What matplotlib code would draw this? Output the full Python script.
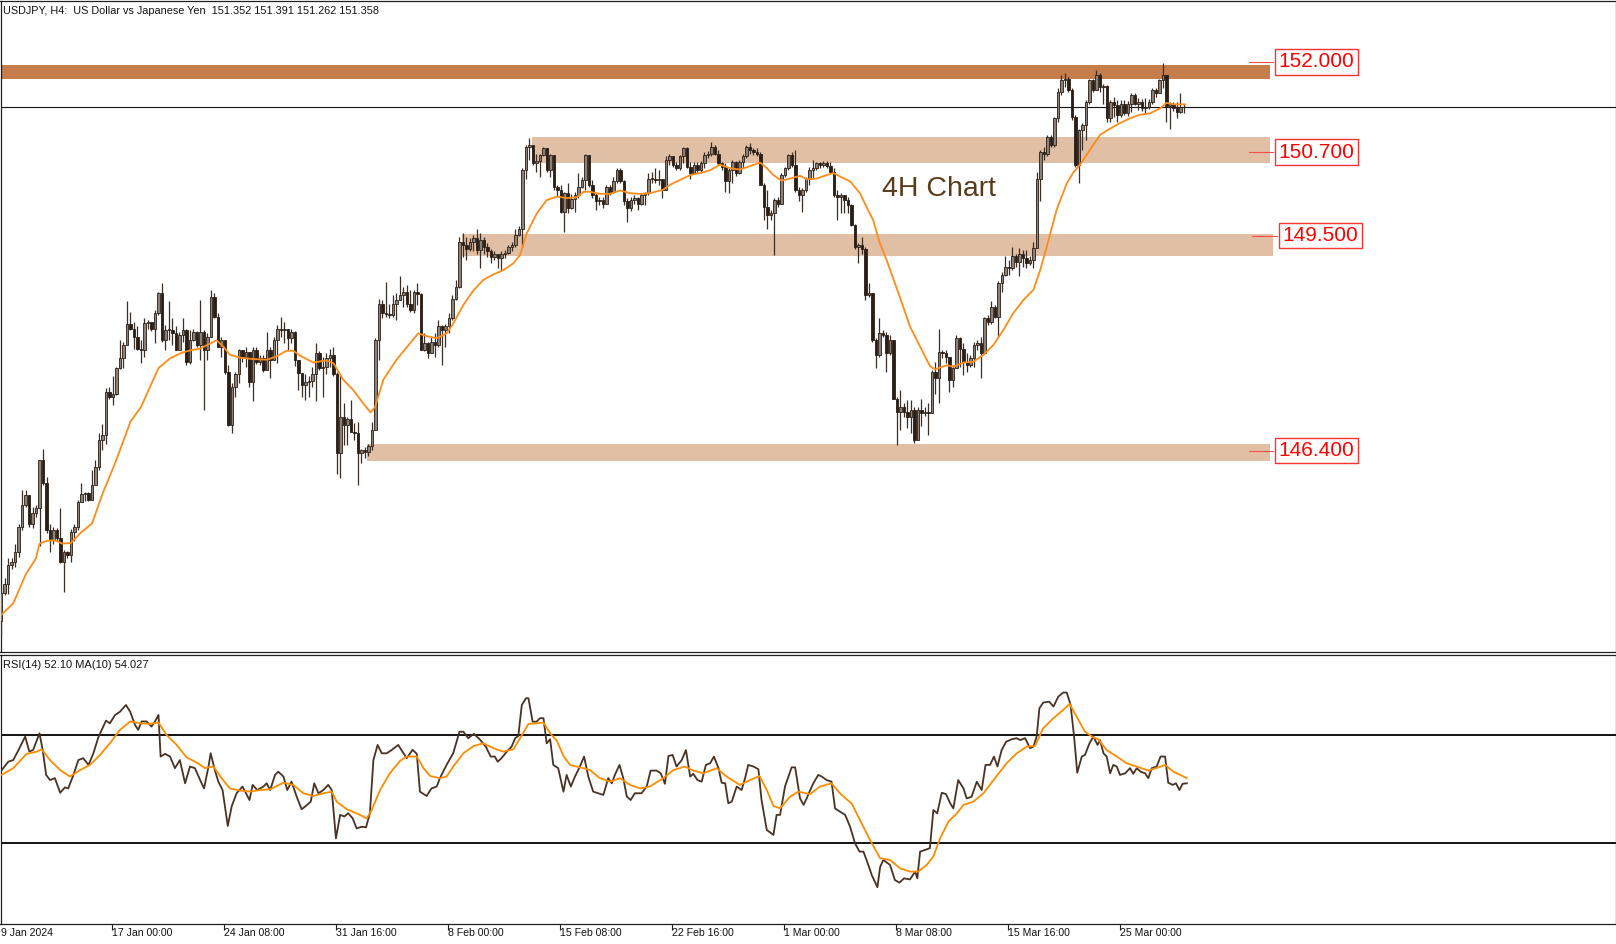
"""
USDJPY H4 chart with support/resistance zones and RSI(14) panel (MT5 style).
"""
import numpy as np
import matplotlib.pyplot as plt
from matplotlib.patches import Rectangle

plt.rcParams['font.family'] = ['Liberation Sans', 'DejaVu Sans']

# ============================================================================
# DATA (H4 bars from 9 Jan 2024 16:00)
# ============================================================================
first_open = 143.95
closes = [
    144.35, 144.48, 144.75, 144.79, 144.94, 145.30, 145.62, 145.76, 145.35, 145.50,
    145.57, 146.26, 145.93, 145.26, 145.11, 145.26, 145.14, 144.80, 144.94, 144.90,
    145.23, 145.30, 145.66, 145.78, 145.79, 145.69, 145.90, 146.17, 146.55, 146.62,
    147.25, 147.18, 147.22, 147.59, 147.73, 147.92, 148.23, 148.16, 148.04, 147.87,
    147.85, 148.24, 148.25, 148.16, 148.38, 148.67, 147.99, 148.14, 148.14, 148.09,
    147.85, 148.07, 148.14, 147.68, 147.99, 148.11, 147.92, 148.11, 147.85, 148.04,
    148.62, 148.33, 147.90, 147.99, 147.54, 146.77, 147.32, 147.51, 147.85, 147.75,
    147.82, 147.39, 147.85, 147.68, 147.73, 147.56, 147.85, 147.71, 147.99, 148.16,
    148.14, 148.15, 148.02, 148.11, 147.70, 147.52, 147.34, 147.39, 147.41, 147.51,
    147.80, 147.59, 147.61, 147.73, 147.78, 147.51, 146.36, 146.89, 146.77, 146.86,
    146.67, 146.65, 146.36, 146.41, 146.38, 146.46, 146.70, 147.99, 148.52, 148.38,
    148.37, 148.35, 148.52, 148.57, 148.64, 148.69, 148.52, 148.43, 148.69, 148.66,
    147.85, 147.95, 147.80, 147.97, 147.92, 148.19, 148.14, 148.19, 148.31, 148.59,
    148.76, 149.41, 149.36, 149.31, 149.41, 149.46, 149.29, 149.43, 149.34, 149.27,
    149.19, 149.24, 149.17, 149.24, 149.25, 149.34, 149.37, 149.51, 149.59, 150.44,
    150.78, 150.80, 150.54, 150.58, 150.66, 150.76, 150.44, 150.66, 150.20, 150.16,
    149.84, 150.11, 149.89, 150.02, 150.08, 150.20, 150.30, 150.66, 150.23, 150.08,
    149.99, 150.01, 149.96, 150.20, 150.13, 150.28, 150.44, 150.28, 149.99, 149.89,
    150.01, 150.04, 149.96, 150.08, 150.11, 150.32, 150.32, 150.30, 150.31, 150.16,
    150.59, 150.64, 150.52, 150.47, 150.64, 150.76, 150.49, 150.40, 150.52, 150.44,
    150.54, 150.66, 150.68, 150.78, 150.68, 150.54, 150.49, 150.28, 150.44, 150.56,
    150.40, 150.56, 150.64, 150.78, 150.73, 150.71, 150.68, 150.23, 149.91, 149.79,
    149.82, 150.01, 149.96, 150.37, 150.47, 150.66, 150.52, 150.16, 150.08, 150.16,
    150.32, 150.44, 150.47, 150.54, 150.52, 150.54, 150.50, 150.42, 150.08, 150.06,
    150.08, 150.01, 149.94, 149.65, 149.34, 149.36, 149.31, 148.64, 148.67, 147.99,
    147.78, 148.09, 148.07, 147.80, 147.99, 147.15, 146.96, 147.03, 146.96, 146.89,
    146.99, 146.55, 146.99, 146.94, 146.96, 146.94, 147.54, 147.44, 147.82, 147.80,
    147.75, 147.42, 147.59, 148.02, 147.87, 147.68, 147.63, 147.73, 147.92, 147.95,
    147.80, 148.31, 148.26, 148.47, 148.33, 148.81, 148.93, 149.05, 149.03, 149.20,
    149.12, 149.24, 149.17, 149.10, 149.15, 149.32, 150.32, 150.71, 150.68, 150.92,
    150.80, 151.19, 151.57, 151.74, 151.76, 151.60, 151.21, 150.52, 151.02, 151.09,
    151.43, 151.74, 151.60, 151.81, 151.64, 151.66, 151.19, 151.43, 151.38, 151.24,
    151.40, 151.26, 151.40, 151.52, 151.40, 151.43, 151.33, 151.35, 151.43, 151.60,
    151.55, 151.74, 151.81, 151.36, 151.40, 151.33, 151.28, 151.352, 151.358,
]
highs = [
    144.45, 144.56, 144.85, 144.85, 145.06, 145.35, 145.83, 145.84, 145.74, 145.59,
    145.61, 146.27, 146.42, 146.02, 145.35, 145.30, 145.28, 145.57, 144.97, 144.96,
    145.27, 145.35, 145.69, 145.93, 145.80, 145.80, 146.12, 146.27, 146.65, 146.79,
    147.30, 147.32, 147.47, 147.61, 147.99, 147.97, 148.55, 148.40, 148.26, 148.19,
    147.99, 148.31, 148.28, 148.25, 148.43, 148.68, 148.82, 148.21, 148.55, 148.31,
    148.19, 148.11, 148.31, 148.15, 148.14, 148.15, 148.13, 148.57, 148.14, 148.09,
    148.71, 148.67, 148.38, 148.04, 147.92, 147.63, 147.37, 147.54, 147.87, 147.85,
    147.90, 147.71, 147.90, 147.90, 147.78, 147.78, 148.11, 147.90, 148.04, 148.21,
    148.33, 148.26, 148.11, 148.15, 148.12, 147.66, 147.51, 147.51, 147.47, 147.61,
    147.95, 147.83, 147.75, 147.80, 147.87, 147.90, 147.54, 147.51, 147.08, 146.89,
    147.13, 146.80, 146.82, 146.43, 146.45, 146.50, 146.82, 148.02, 148.59, 148.57,
    148.83, 148.52, 148.64, 148.67, 148.91, 148.76, 148.79, 148.71, 148.71, 148.81,
    148.67, 148.09, 147.97, 148.04, 148.09, 148.28, 148.21, 148.23, 148.38, 148.64,
    148.86, 149.48, 149.53, 149.48, 149.46, 149.51, 149.60, 149.53, 149.48, 149.39,
    149.31, 149.27, 149.24, 149.27, 149.29, 149.36, 149.40, 149.60, 149.63, 150.47,
    150.80, 150.90, 150.80, 150.68, 150.68, 150.78, 150.76, 150.68, 150.56, 150.23,
    150.23, 150.13, 150.25, 150.10, 150.13, 150.40, 150.35, 150.68, 150.66, 150.30,
    150.11, 150.06, 150.05, 150.23, 150.23, 150.35, 150.47, 150.47, 150.30, 150.04,
    150.06, 150.08, 150.06, 150.11, 150.13, 150.40, 150.42, 150.47, 150.44, 150.32,
    150.64, 150.68, 150.64, 150.56, 150.66, 150.78, 150.78, 150.56, 150.56, 150.56,
    150.58, 150.71, 150.72, 150.85, 150.80, 150.73, 150.56, 150.54, 150.47, 150.59,
    150.58, 150.59, 150.68, 150.80, 150.83, 150.76, 150.76, 150.71, 150.25, 150.16,
    149.87, 150.04, 150.06, 150.40, 150.49, 150.68, 150.71, 150.73, 150.20, 150.18,
    150.35, 150.49, 150.59, 150.56, 150.56, 150.57, 150.57, 150.56, 150.47, 150.16,
    150.11, 150.08, 150.06, 149.96, 149.67, 149.39, 149.48, 149.34, 148.81, 148.67,
    148.02, 148.31, 148.14, 148.11, 148.07, 147.87, 147.18, 147.27, 147.08, 147.13,
    147.13, 147.03, 147.03, 147.15, 147.03, 147.08, 147.56, 147.68, 148.16, 147.85,
    147.85, 147.75, 147.63, 148.07, 148.04, 147.95, 147.80, 147.78, 147.97, 147.99,
    148.04, 148.33, 148.36, 148.55, 148.50, 148.84, 148.98, 149.20, 149.15, 149.34,
    149.24, 149.32, 149.29, 149.29, 149.20, 149.41, 150.42, 150.73, 150.78, 150.95,
    150.95, 151.21, 151.62, 151.81, 151.84, 151.79, 151.62, 151.24, 151.04, 151.12,
    151.45, 151.76, 151.76, 151.88, 151.84, 151.69, 151.67, 151.45, 151.50, 151.45,
    151.45, 151.45, 151.44, 151.55, 151.55, 151.48, 151.46, 151.48, 151.46, 151.62,
    151.62, 151.76, 151.98, 151.79, 151.43, 151.43, 151.43, 151.55, 151.391,
]
lows = [
    143.76, 144.32, 144.34, 144.70, 144.73, 144.87, 145.26, 145.59, 145.30, 145.28,
    145.45, 145.02, 145.91, 145.21, 144.94, 145.05, 145.10, 144.78, 144.37, 144.85,
    144.80, 145.10, 145.26, 145.66, 145.67, 145.67, 145.69, 145.90, 146.12, 146.41,
    146.50, 147.15, 147.06, 147.20, 147.58, 147.59, 147.92, 148.14, 147.87, 147.85,
    147.66, 147.75, 148.16, 148.12, 147.95, 148.36, 147.97, 147.85, 147.99, 147.92,
    147.85, 147.85, 147.97, 147.63, 147.65, 147.98, 147.90, 147.71, 146.99, 147.71,
    148.04, 148.31, 147.90, 147.75, 147.51, 146.75, 146.65, 147.18, 147.37, 147.68,
    147.61, 147.32, 147.11, 147.65, 147.63, 147.54, 147.70, 147.44, 147.70, 147.66,
    148.04, 147.95, 147.85, 147.95, 147.62, 147.27, 147.18, 147.13, 147.18, 147.32,
    147.11, 147.56, 147.18, 147.51, 147.61, 147.47, 146.07, 146.00, 146.48, 146.48,
    146.67, 146.55, 145.90, 146.22, 146.30, 146.33, 146.41, 146.70, 147.71, 148.31,
    148.33, 148.31, 148.33, 148.28, 148.57, 148.47, 148.47, 148.40, 148.38, 148.50,
    147.85, 147.83, 147.73, 147.80, 147.75, 147.90, 147.63, 147.90, 148.09, 148.28,
    148.57, 148.74, 149.19, 149.15, 149.27, 149.27, 149.24, 149.03, 149.24, 149.19,
    149.10, 149.15, 149.03, 149.00, 149.17, 149.24, 149.28, 149.34, 149.50, 149.34,
    150.32, 150.59, 150.52, 150.42, 150.35, 150.64, 150.42, 150.35, 150.16, 150.06,
    149.82, 149.55, 149.82, 149.88, 149.84, 150.04, 150.18, 150.16, 150.20, 150.04,
    149.87, 149.94, 149.90, 149.96, 150.08, 150.11, 150.25, 150.25, 149.94, 149.70,
    149.86, 149.96, 149.87, 149.94, 149.94, 150.08, 150.25, 150.25, 150.23, 150.04,
    150.16, 150.52, 150.49, 150.44, 150.45, 150.54, 150.47, 150.32, 150.38, 150.40,
    150.40, 150.47, 150.62, 150.64, 150.66, 150.52, 150.45, 150.13, 150.11, 150.25,
    150.36, 150.38, 150.47, 150.61, 150.68, 150.66, 150.64, 150.23, 149.72, 149.60,
    149.72, 149.22, 149.91, 150.00, 150.35, 150.44, 150.49, 150.13, 149.99, 149.84,
    150.13, 150.23, 150.32, 150.44, 150.47, 150.48, 150.47, 150.40, 150.06, 149.72,
    149.82, 149.82, 149.82, 149.63, 149.31, 149.10, 149.24, 148.57, 148.62, 147.97,
    147.59, 147.75, 148.04, 147.54, 147.78, 147.15, 146.48, 146.70, 146.88, 146.72,
    146.65, 146.51, 146.55, 146.75, 146.90, 146.62, 146.94, 147.22, 147.08, 147.74,
    147.66, 147.25, 147.32, 147.59, 147.61, 147.49, 147.54, 147.60, 147.61, 147.85,
    147.44, 147.95, 148.21, 148.23, 148.31, 148.04, 148.69, 148.91, 148.93, 149.00,
    149.05, 148.91, 149.05, 149.03, 149.08, 149.03, 149.32, 149.99, 150.59, 150.64,
    150.78, 150.78, 151.14, 151.52, 151.64, 151.57, 151.16, 150.49, 150.25, 150.73,
    150.88, 151.40, 151.57, 151.64, 151.57, 151.40, 151.14, 151.14, 151.21, 151.14,
    151.21, 151.24, 151.22, 151.28, 151.38, 151.31, 151.30, 151.26, 151.32, 151.40,
    151.50, 151.55, 151.62, 151.14, 151.04, 151.30, 151.19, 151.26, 151.262,
]

# orange moving average on price (bar index, value)
price_ma = [
    (0, 144.03), (3.5, 144.20), (7, 144.61), (10, 144.85), (11, 145.06), (13, 145.10),
    (15.4, 145.11), (17.5, 145.06), (20, 145.07), (22.6, 145.21), (26, 145.35), (29, 145.78),
    (32.6, 146.22), (35.4, 146.60), (37, 146.82), (40, 147.03), (42.6, 147.32), (45, 147.59),
    (48.3, 147.73), (51.6, 147.81), (54.5, 147.85), (56.9, 147.87), (58.8, 147.92), (61.6, 147.99),
    (63.5, 147.90), (65.4, 147.78), (68.3, 147.74), (72, 147.72), (76, 147.71), (78.8, 147.76),
    (81.6, 147.84), (83.5, 147.84), (85.4, 147.77), (89.2, 147.67), (93, 147.70), (95, 147.66),
    (97.8, 147.42), (100.7, 147.27), (103.5, 147.08), (105.6, 146.95), (106.9, 147.03), (109.2, 147.42),
    (113, 147.71), (116.9, 147.95), (119.2, 148.09), (121.6, 148.05), (124.5, 148.02), (127.3, 148.09),
    (129.2, 148.23), (132.1, 148.50), (135, 148.71), (137.8, 148.86), (140.7, 148.94), (143.5, 149.00),
    (146.4, 149.10), (148.3, 149.22), (150.2, 149.53), (153.1, 149.82), (155.9, 150.01), (158.8, 150.06),
    (161.6, 150.04), (164.5, 150.05), (166.4, 150.13), (168.3, 150.13), (171.1, 150.10), (174, 150.10),
    (176.9, 150.15), (179.7, 150.11), (182.6, 150.10), (185.4, 150.11), (189.2, 150.16), (191.1, 150.23),
    (194, 150.30), (196.9, 150.37), (199.7, 150.40), (202.6, 150.44), (205.4, 150.52), (208.3, 150.47),
    (211.1, 150.45), (214, 150.50), (216.9, 150.55), (218.8, 150.47), (220.7, 150.37), (223, 150.29),
    (225.4, 150.32), (228.3, 150.36), (230.2, 150.31), (233, 150.32), (235.9, 150.37), (237.8, 150.40),
    (239.7, 150.35), (242.6, 150.28), (245.4, 150.11), (247.3, 149.91), (249.2, 149.72), (251.1, 149.39),
    (253, 149.15), (254.9, 148.88), (256.9, 148.60), (259.7, 148.19), (262.6, 147.90), (265.4, 147.62),
    (266.9, 147.57), (268.3, 147.60), (270.2, 147.63), (272.1, 147.61), (275, 147.67), (277.8, 147.68),
    (280.7, 147.78), (283.5, 147.92), (286.4, 148.14), (289.2, 148.38), (292.1, 148.57), (295, 148.72),
    (296.9, 149.00), (298.8, 149.34), (301.6, 149.87), (304.5, 150.25), (306.4, 150.41), (308.3, 150.52),
    (311.1, 150.73), (314, 150.95), (316.9, 151.04), (319.7, 151.12), (322.6, 151.19), (325.4, 151.24),
    (328.3, 151.26), (331.1, 151.33), (333, 151.41), (335, 151.39), (336.9, 151.39), (338.3, 151.39),
]

# RSI(14) and its MA(10) (bar index, value)
rsi_line = [
    (0.2, 57.0), (2.1, 60.1), (3.5, 60.7), (5.0, 64.4), (6.9, 69.4), (8.1, 63.8), (9.2, 64.5), (11.0, 70.6),
    (11.9, 64.5), (12.9, 55.2), (14.0, 53.3), (15.4, 54.0), (16.9, 48.6), (18.3, 50.6), (19.2, 50.2),
    (20.7, 55.2), (22.1, 60.7), (23.5, 61.4), (25.0, 58.9), (26.4, 63.2), (27.8, 69.1), (30.0, 75.3),
    (31.1, 74.3), (32.6, 77.4), (34.0, 78.6), (35.7, 81.1), (36.9, 78.6), (38.3, 73.7), (39.2, 71.9),
    (40.2, 75.0), (41.6, 75.0), (43.0, 73.1), (44.0, 75.0), (45.0, 77.4), (45.6, 62.0), (46.9, 63.0),
    (48.3, 62.0), (49.7, 57.7), (51.1, 60.7), (52.6, 52.1), (54.0, 58.3), (55.4, 57.7), (56.9, 53.3),
    (58.0, 50.2), (59.2, 57.7), (59.9, 63.2), (61.1, 57.0), (62.1, 52.7), (63.3, 49.6), (64.8, 36.3),
    (65.9, 43.5), (67.3, 48.4), (69.0, 50.9), (71.0, 45.9), (71.9, 51.5), (73.2, 49.6), (75.0, 50.9),
    (75.9, 52.1), (76.9, 49.6), (78.3, 55.2), (79.2, 56.4), (80.7, 54.6), (81.8, 49.6), (83.0, 52.7),
    (84.5, 47.1), (85.9, 42.5), (87.1, 43.7), (88.5, 45.3), (89.5, 52.1), (90.7, 48.4), (92.1, 49.6),
    (93.5, 51.5), (94.5, 49.6), (95.7, 31.7), (96.9, 40.4), (98.1, 39.8), (99.2, 41.0), (100.5, 39.1),
    (101.6, 35.4), (103.0, 36.0), (104.3, 35.8), (105.4, 41.0), (106.4, 60.7), (107.6, 66.3), (108.8, 63.2),
    (110.2, 63.2), (111.6, 64.4), (113.5, 66.3), (115.9, 61.4), (117.6, 64.5), (118.8, 63.0), (119.7, 49.0),
    (121.6, 47.4), (123.0, 50.2), (124.5, 50.9), (125.4, 54.0), (127.3, 58.9), (129.2, 63.2), (131.0, 71.2),
    (132.1, 71.2), (133.5, 68.8), (135.1, 70.4), (136.9, 68.2), (138.6, 65.5), (139.9, 62.0), (141.1, 62.0),
    (141.9, 60.1), (143.0, 61.4), (144.5, 63.8), (145.9, 65.7), (146.9, 68.8), (147.8, 69.6), (148.8, 81.1),
    (150.0, 83.6), (150.7, 83.6), (151.9, 74.9), (153.0, 74.9), (154.0, 76.2), (155.0, 76.2), (155.9, 66.9),
    (156.9, 68.4), (157.8, 58.9), (159.2, 57.7), (160.7, 49.0), (161.6, 55.2), (162.8, 50.9), (164.0, 54.6),
    (165.4, 58.3), (166.6, 62.0), (167.8, 54.6), (169.2, 49.0), (170.7, 48.4), (172.1, 47.8), (173.5, 54.0),
    (174.5, 52.1), (175.4, 55.2), (176.7, 58.9), (177.8, 54.0), (178.8, 47.2), (179.9, 45.9), (181.1, 48.4),
    (183.0, 48.4), (184.5, 50.9), (185.6, 56.8), (187.3, 56.8), (188.5, 55.8), (189.7, 51.9), (190.7, 62.2),
    (191.9, 62.6), (193.0, 58.3), (194.5, 60.7), (195.7, 64.4), (196.9, 54.6), (197.8, 55.6), (199.0, 53.3),
    (200.2, 52.7), (201.4, 58.9), (202.6, 59.5), (203.7, 62.0), (205.0, 57.7), (205.9, 52.3), (206.9, 52.1),
    (207.8, 44.7), (208.8, 45.3), (210.2, 50.9), (211.6, 49.6), (212.6, 54.0), (213.5, 58.9), (215.0, 58.3),
    (216.4, 57.3), (217.3, 45.9), (218.8, 34.8), (220.7, 33.0), (221.6, 40.4), (222.6, 40.4), (224.0, 50.9),
    (225.9, 58.0), (226.9, 58.0), (228.3, 46.5), (229.3, 44.1), (230.2, 46.5), (231.2, 49.6), (232.1, 52.1),
    (233.5, 55.2), (234.5, 54.6), (235.9, 53.3), (237.3, 52.7), (238.3, 42.8), (239.7, 41.6), (241.2, 40.4),
    (242.6, 36.0), (244.0, 29.9), (245.3, 26.8), (246.4, 26.8), (247.3, 23.7), (248.8, 18.1), (250.4, 13.6),
    (251.2, 21.2), (252.1, 23.7), (254.0, 21.9), (255.4, 16.3), (256.7, 15.3), (258.0, 16.9), (259.7, 16.5),
    (261.2, 19.4), (261.8, 16.9), (262.6, 26.8), (264.0, 27.4), (265.4, 28.1), (266.4, 42.2), (267.5, 41.0),
    (268.8, 48.6), (270.0, 48.1), (271.2, 44.7), (272.1, 42.8), (273.5, 53.3), (275.0, 50.2), (275.9, 46.5),
    (277.3, 47.1), (278.8, 52.7), (280.2, 49.6), (281.3, 58.9), (282.6, 58.9), (283.7, 62.0), (284.7, 58.3),
    (285.9, 64.4), (287.2, 67.5), (288.8, 68.4), (290.2, 68.8), (291.2, 68.1), (292.6, 68.8), (294.0, 65.1),
    (295.0, 65.7), (295.9, 69.4), (296.7, 79.9), (297.8, 82.0), (299.5, 82.3), (300.7, 80.5), (302.1, 84.2),
    (303.5, 85.7), (304.5, 85.7), (305.6, 81.1), (306.6, 69.4), (307.5, 56.0), (308.8, 62.0), (309.7, 62.6),
    (311.0, 66.9), (312.1, 69.4), (313.3, 66.3), (314.0, 68.1), (315.0, 63.2), (315.9, 62.0), (316.9, 55.8),
    (317.8, 58.9), (318.8, 58.3), (319.7, 55.2), (321.2, 55.8), (322.6, 57.7), (323.5, 55.6), (324.5, 57.7),
    (325.6, 56.4), (326.9, 55.8), (327.8, 54.0), (328.8, 57.7), (330.2, 58.3), (331.3, 62.0), (332.6, 62.0),
    (333.5, 52.3), (334.8, 51.5), (335.7, 52.1), (336.7, 49.6), (337.6, 51.9), (338.8, 52.1),
]
rsi_ma = [
    (0.2, 55.2), (3.5, 57.7), (7.3, 63.0), (10.2, 63.8), (11.6, 64.7), (14.0, 60.7), (16.9, 57.0),
    (19.7, 54.6), (22.6, 57.0), (25.4, 58.9), (28.3, 62.6), (31.1, 66.9), (34.0, 71.9), (36.9, 75.0),
    (39.7, 74.3), (42.6, 74.1), (45.0, 74.6), (47.3, 70.0), (50.2, 66.3), (53.0, 61.7), (55.9, 59.8),
    (58.3, 57.7), (60.7, 58.3), (63.0, 54.0), (65.4, 50.2), (68.3, 49.4), (71.1, 49.0), (74.0, 49.6),
    (76.9, 49.9), (80.7, 52.3), (83.5, 51.5), (86.4, 48.4), (89.2, 47.4), (92.1, 48.4), (94.5, 49.0),
    (95.9, 45.3), (98.8, 42.5), (101.6, 41.0), (104.5, 39.1), (105.9, 42.2), (108.3, 49.6), (111.1, 55.8),
    (114.0, 60.4), (115.9, 62.0), (118.8, 62.0), (120.7, 57.7), (122.6, 54.8), (125.4, 54.0), (127.3, 54.6),
    (129.2, 58.3), (132.1, 63.2), (135.0, 65.9), (137.8, 66.9), (140.7, 65.1), (143.5, 63.8), (146.4, 64.7),
    (148.3, 68.8), (150.7, 74.1), (153.0, 74.3), (155.0, 74.6), (156.9, 70.6), (158.8, 67.9), (160.7, 62.2),
    (162.6, 58.9), (165.4, 58.0), (168.3, 57.0), (171.1, 54.0), (174.0, 52.7), (176.9, 54.0), (179.7, 51.5),
    (182.6, 50.2), (185.4, 50.9), (189.2, 54.0), (192.1, 57.0), (195.4, 58.3), (197.8, 56.8), (200.7, 55.8),
    (204.5, 57.7), (207.3, 54.6), (211.1, 51.5), (214.0, 53.3), (216.7, 54.8), (218.8, 49.6), (220.7, 43.7),
    (222.6, 42.8), (225.4, 47.1), (227.8, 49.0), (231.2, 48.1), (234.0, 50.9), (237.3, 52.1), (239.7, 48.4),
    (243.1, 44.5), (245.4, 38.5), (248.3, 31.1), (251.2, 24.3), (254.0, 23.7), (256.9, 20.6), (259.7, 19.4),
    (262.1, 19.4), (264.5, 21.9), (266.4, 25.0), (268.3, 31.7), (270.7, 37.9), (273.1, 41.0), (275.0, 44.1),
    (277.8, 45.3), (280.7, 48.4), (284.0, 54.0), (287.3, 59.5), (290.2, 63.2), (293.1, 65.7), (295.4, 65.9),
    (297.8, 72.5), (300.7, 76.2), (303.5, 79.3), (305.3, 81.5), (307.3, 76.8), (309.7, 71.2), (312.1, 69.1),
    (313.5, 68.4), (315.9, 64.4), (318.8, 62.0), (321.6, 59.5), (324.5, 58.3), (327.8, 56.8), (330.7, 58.0),
    (332.6, 58.9), (335.0, 56.4), (336.9, 55.2), (338.8, 54.0),
]

# zones: label level, price low/high, first/last bar covered
zone_labels = ['152.000', '150.700', '149.500', '146.400']
zone_levels = [152.0, 150.7, 149.5, 146.4]
zone_low = [151.755, 150.541, 149.209, 146.255]
zone_high = [151.957, 150.915, 149.518, 146.496]
zone_start = [-0.5, 151.7, 131.7, 104.6]
zone_end = [362.6, 362.6, 363.4, 362.6]

last_price = 151.358
tick_labels = ['9 Jan 2024', '17 Jan 00:00', '24 Jan 08:00', '31 Jan 16:00', '8 Feb 00:00',
               '15 Feb 08:00', '22 Feb 16:00', '1 Mar 00:00', '8 Mar 08:00', '15 Mar 16:00',
               '25 Mar 00:00']
bars_per_label = 32

# ============================================================================
# PLOT
# ============================================================================
W, H = 1616, 944
fig = plt.figure(figsize=(W / 100, H / 100), dpi=100)
fig.patch.set_facecolor('white')


def px_rect(x0, y0, x1, y1):
    return [x0 / W, 1 - y1 / H, (x1 - x0) / W, (y1 - y0) / H]


ax = fig.add_axes(px_rect(0.5, 0.5, 1615.5, 652))
ax2 = fig.add_axes(px_rect(0.5, 655, 1615.5, 924))

xmin, xmax = -0.143, 461.29
for a in (ax, ax2):
    a.set_xlim(xmin, xmax)
    a.set_yticks([])
    for s in a.spines.values():
        s.set_linewidth(0.9)
        s.set_color('#202020')
ax.set_ylim(143.499, 152.886)
ax.set_xticks([])

# zones
for i, lev in enumerate(zone_levels):
    col = '#c47d4b' if i == 0 else '#e1bfa5'
    ax.add_patch(Rectangle((zone_start[i], zone_low[i]), zone_end[i] - zone_start[i],
                           zone_high[i] - zone_low[i], facecolor=col, edgecolor='none', zorder=1))

# last price line
ax.axhline(last_price, color='#111111', lw=0.8, zorder=2)

# candles
c = np.array(closes)
o = np.array([first_open] + closes[:-1])
hi = np.maximum(np.array(highs), np.maximum(o, c))
lo = np.minimum(np.array(lows), np.minimum(o, c))
idx = np.arange(len(c))
bull = c >= o
ax.vlines(idx, lo, hi, color='#3a2e25', lw=0.9, zorder=3)
ax.bar(idx, np.maximum(np.abs(c - o), 0.006), bottom=np.minimum(o, c), width=0.7,
       color=np.where(bull, '#8b8178', '#2a1e15'), edgecolor='#2a1e15', linewidth=0.6, zorder=4)

# price MA
mx, mv = zip(*price_ma)
ax.plot(mx, mv, color='#ff8c1a', lw=1.3, zorder=5)

# zone labels
for i, lev in enumerate(zone_levels):
    cx = 377.0 if i == 2 else 375.9
    x0 = 357.4 if i == 2 else 356.6
    ax.plot([x0, cx - 12.5], [lev, lev], color='#ff4a4a', lw=0.8, zorder=6)
    ax.text(cx, lev, zone_labels[i], color='#ff0000', fontsize=15, ha='center', va='center',
            zorder=7, bbox=dict(boxstyle='square,pad=0.16', fc='white', ec='#ff3030', lw=1.0))

# RSI panel
rx, rv = zip(*rsi_line)
ax2.plot(rx, rv, color='#4a3222', lw=1.3, zorder=3)
qx, qv = zip(*rsi_ma)
ax2.plot(qx, qv, color='#ff8c00', lw=1.3, zorder=4)
ax2.set_ylim(0, 99.6)
for lvl in (70, 30):
    ax2.axhline(lvl, color='#111111', lw=1.4, zorder=2)

# x ticks and labels
tick_pos = [k * bars_per_label - 0.25 for k in range(len(tick_labels))]
ax2.set_xticks(tick_pos[1:])
ax2.set_xticklabels([])
ax2.tick_params(axis='x', length=4, width=0.8, direction='out', color='#202020')
for k, lab in enumerate(tick_labels):
    xp = tick_pos[k] + 0.1 if k else -0.1
    ax2.text(xp, -0.035, lab, transform=ax2.get_xaxis_transform(), fontsize=7.6,
             ha='left', va='center', color='#111111')

# header texts
fig.text(3 / W, 1 - 11 / H,
         'USDJPY, H4:  US Dollar vs Japanese Yen  151.352 151.391 151.262 151.358',
         fontsize=7.8, ha='left', va='center', color='#111111')
fig.text(3 / W, 1 - 665 / H, 'RSI(14) 52.10 MA(10) 54.027',
         fontsize=8, ha='left', va='center', color='#111111')
fig.text(882 / W, 1 - 189 / H, '4H Chart', fontsize=20.5, ha='left', va='center',
         color='#5a3a1a')

fig.savefig('out.png', dpi=100)
